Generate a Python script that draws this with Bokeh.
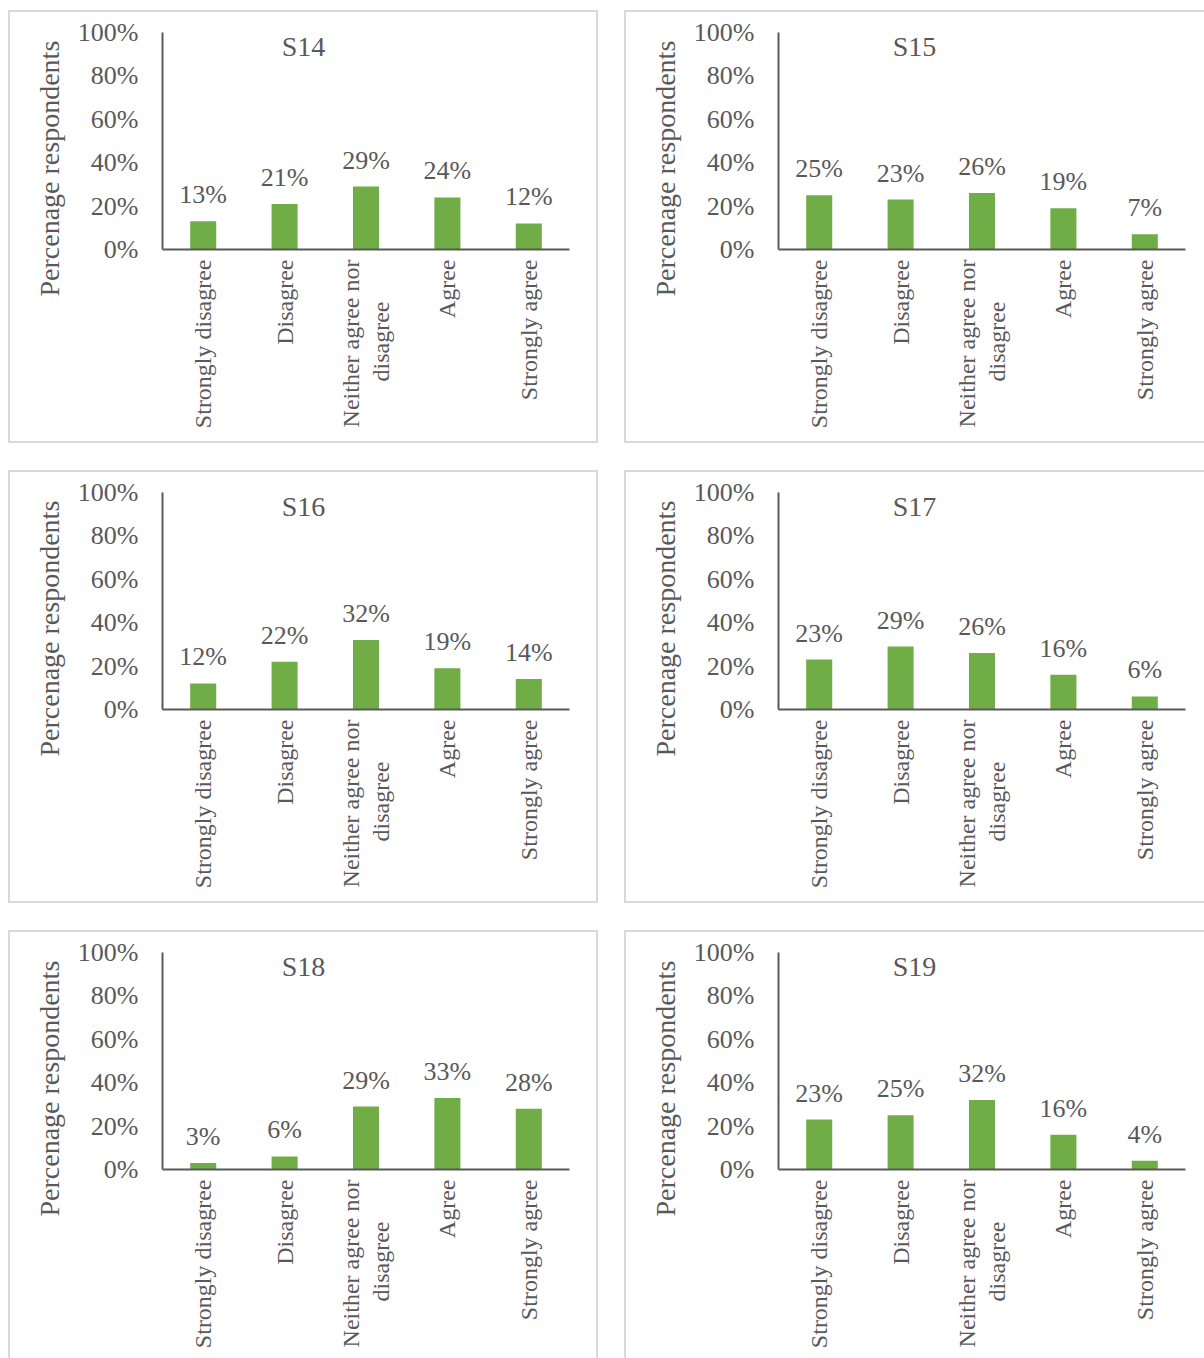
from math import pi
from bokeh.plotting import figure
from bokeh.models import ColumnDataSource, LabelSet, Label, Range1d, FixedTicker, Spacer, Title
from bokeh.layouts import column, row
from bokeh.core.properties import value
from bokeh.embed import file_html
from bokeh.resources import INLINE

NB = "\u00a0"
ZW = "\u200b"
categories = ["Strongly disagree", "Disagree", "Neither agree nor\ndisagree", "Agree", "Strongly agree"]
titles = ["S14", "S15", "S16", "S17", "S18", "S19"]
s14 = [13, 21, 29, 24, 12]
s15 = [25, 23, 26, 19, 7]
s16 = [12, 22, 32, 19, 14]
s17 = [23, 29, 26, 16, 6]
s18 = [3, 6, 29, 33, 28]
s19 = [23, 25, 32, 16, 4]
series = [s14, s15, s16, s17, s18, s19]
y_ticks = [0, 20, 40, 60, 80, 100]
y_tick_labels = {t: f"{t}%" for t in y_ticks}
y_axis_label = "Percenage respondents"

# axis factors: the short second line of the two-line label is padded so it sits centred
factors = [c + (NB * 7 + ZW if "\n" in c else "") for c in categories]

FONT = "Liberation Serif"
TEXT = "#595959"
AXIS = "#595959"
BAR = "#70AD47"
BORDER = "#d9d9d9"

LEFT = 152
TOP = 20
FRAME_W = 407
FRAME_H = 217
B = 2  # border width


def panel(title, vals, w, h, border_right=True, border_bottom=True):
    p = figure(x_range=factors, y_range=Range1d(0, 100), width=w, height=h,
               output_backend="svg", toolbar_location=None,
               min_border_left=LEFT, min_border_right=w - LEFT - FRAME_W,
               min_border_top=TOP, min_border_bottom=h - TOP - FRAME_H)
    p.outline_line_color = None
    p.grid.grid_line_color = None
    p.background_fill_color = "white"
    p.border_fill_color = "white"

    src = ColumnDataSource(dict(cat=factors, val=vals, lab=[f"{v}%" for v in vals]))
    p.vbar(x="cat", top="val", width=0.32, bottom=0, source=src, fill_color=BAR, line_color=None)
    p.add_layout(LabelSet(x="cat", y="val", text="lab", source=src, text_align="center",
                          text_baseline="alphabetic", y_offset=18, text_font=value(FONT),
                          text_font_size=value("26px"), text_color=TEXT))

    ya = p.yaxis[0]
    ya.ticker = FixedTicker(ticks=y_ticks)
    ya.major_label_overrides = y_tick_labels
    ya.major_tick_line_color = None
    ya.minor_tick_line_color = None
    ya.major_tick_out = 0
    ya.major_tick_in = 0
    ya.axis_line_color = AXIS
    ya.axis_line_width = 2
    ya.major_label_standoff = 24
    ya.major_label_text_font = FONT
    ya.major_label_text_font_size = "26px"
    ya.major_label_text_color = TEXT

    # y-axis title as a side title, starting a little below the frame bottom
    p.add_layout(Title(text=y_axis_label, align="left", offset=-47, standoff=20,
                       text_font=FONT, text_font_size="28px", text_font_style="normal",
                       text_color=TEXT), "left")

    xa = p.xaxis[0]
    xa.major_tick_line_color = None
    xa.minor_tick_line_color = None
    xa.major_tick_out = 0
    xa.major_tick_in = 0
    xa.axis_line_color = AXIS
    xa.axis_line_width = 2
    xa.major_label_orientation = pi / 2
    xa.major_label_standoff = 10
    xa.major_label_text_font = FONT
    xa.major_label_text_font_size = "24px"
    xa.major_label_text_color = TEXT
    xa.major_label_text_line_height = 1.15

    ncat = len(categories)
    # title centred on panel
    sx = (w / 2 - B - LEFT) / FRAME_W * ncat
    p.add_layout(Label(x=sx, y=93.5, text=title, text_align="center", text_baseline="alphabetic",
                       text_font=FONT, text_font_size="28px", text_color=TEXT))

    st = {"border-left": f"{B}px solid {BORDER}", "border-top": f"{B}px solid {BORDER}"}
    if border_right:
        st["border-right"] = f"{B}px solid {BORDER}"
    if border_bottom:
        st["border-bottom"] = f"{B}px solid {BORDER}"
    p.styles = st
    return p


figs = []
for i, (t, v) in enumerate(zip(titles, series)):
    r, c = divmod(i, 2)
    w = 590 if c == 0 else 580
    h = 433 if r < 2 else 428
    figs.append(panel(t, v, w, h, border_right=(c == 0), border_bottom=(r < 2)))

rows = []
for r in range(3):
    rows.append(row(Spacer(width=8), figs[2 * r], Spacer(width=26), figs[2 * r + 1], spacing=0))

layout = column(Spacer(height=10), rows[0], Spacer(height=27), rows[1], Spacer(height=27), rows[2],
                spacing=0)

open("out.html", "w").write(file_html(layout, INLINE))
